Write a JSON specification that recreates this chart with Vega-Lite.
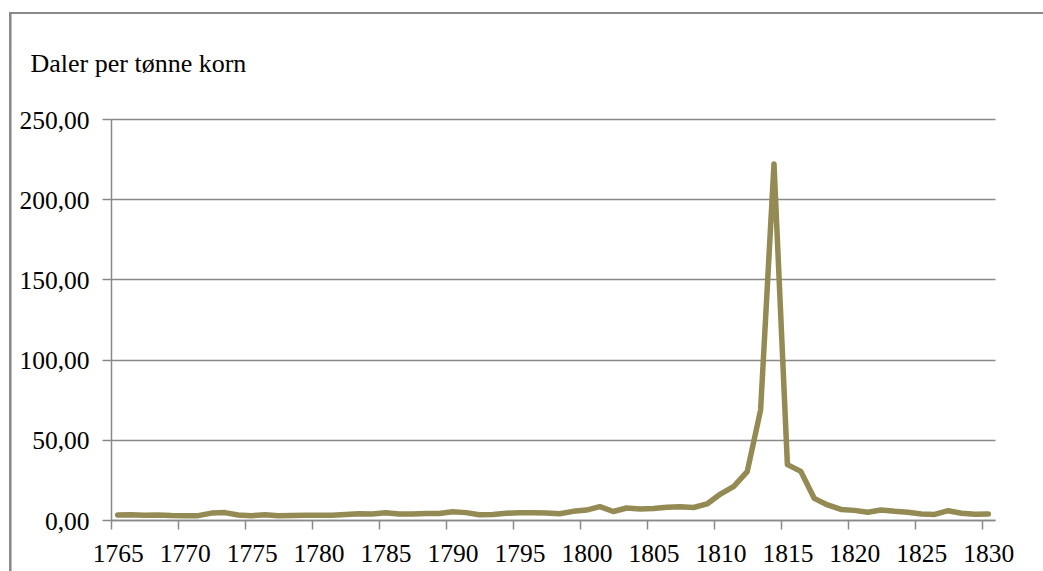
{
  "$schema": "https://vega.github.io/schema/vega-lite/v6.json",
  "width": 884,
  "height": 401,
  "autosize": {"type": "none"},
  "padding": {"left": 111, "top": 119, "right": 48, "bottom": 51},
  "background": "white",
  "config": {
    "view": {"stroke": null},
    "font": "Liberation Serif",
    "axis": {
      "labelFont": "Liberation Serif",
      "titleFont": "Liberation Serif",
      "labelColor": "black",
      "titleColor": "black",
      "labelFontSize": 25.5,
      "domainColor": "#898989",
      "domainWidth": 1.5,
      "tickColor": "#898989",
      "tickWidth": 1.5,
      "tickSize": 9,
      "gridColor": "#898989",
      "gridWidth": 1.5
    }
  },
  "data": {
    "values": [
      {"year": 1765, "price": 3.1}, {"year": 1766, "price": 3.2}, {"year": 1767, "price": 3.0},
      {"year": 1768, "price": 3.1}, {"year": 1769, "price": 2.8}, {"year": 1770, "price": 2.7},
      {"year": 1771, "price": 2.7}, {"year": 1772, "price": 4.3}, {"year": 1773, "price": 4.6},
      {"year": 1774, "price": 3.1}, {"year": 1775, "price": 2.7}, {"year": 1776, "price": 3.3},
      {"year": 1777, "price": 2.7}, {"year": 1778, "price": 2.8}, {"year": 1779, "price": 3.0},
      {"year": 1780, "price": 3.0}, {"year": 1781, "price": 3.0}, {"year": 1782, "price": 3.4},
      {"year": 1783, "price": 3.9}, {"year": 1784, "price": 3.7}, {"year": 1785, "price": 4.5},
      {"year": 1786, "price": 3.7}, {"year": 1787, "price": 3.7}, {"year": 1788, "price": 4.0},
      {"year": 1789, "price": 4.1}, {"year": 1790, "price": 5.2}, {"year": 1791, "price": 4.6},
      {"year": 1792, "price": 3.3}, {"year": 1793, "price": 3.5}, {"year": 1794, "price": 4.2},
      {"year": 1795, "price": 4.5}, {"year": 1796, "price": 4.5}, {"year": 1797, "price": 4.4},
      {"year": 1798, "price": 3.9}, {"year": 1799, "price": 5.4}, {"year": 1800, "price": 6.2},
      {"year": 1801, "price": 8.3}, {"year": 1802, "price": 5.3}, {"year": 1803, "price": 7.5},
      {"year": 1804, "price": 6.9}, {"year": 1805, "price": 7.1}, {"year": 1806, "price": 7.9},
      {"year": 1807, "price": 8.2}, {"year": 1808, "price": 7.8}, {"year": 1809, "price": 10.0},
      {"year": 1810, "price": 16.2}, {"year": 1811, "price": 21.0}, {"year": 1812, "price": 30.1},
      {"year": 1813, "price": 68.6}, {"year": 1814, "price": 222.0}, {"year": 1815, "price": 34.5},
      {"year": 1816, "price": 30.3}, {"year": 1817, "price": 13.5}, {"year": 1818, "price": 9.4},
      {"year": 1819, "price": 6.6}, {"year": 1820, "price": 6.0}, {"year": 1821, "price": 4.8},
      {"year": 1822, "price": 6.2}, {"year": 1823, "price": 5.4}, {"year": 1824, "price": 4.8},
      {"year": 1825, "price": 3.7}, {"year": 1826, "price": 3.5}, {"year": 1827, "price": 5.8},
      {"year": 1828, "price": 4.2}, {"year": 1829, "price": 3.6}, {"year": 1830, "price": 3.7}
    ]
  },
  "layer": [
    {
      "mark": {"type": "line", "color": "#948A54", "strokeWidth": 5.5, "strokeJoin": "round", "strokeCap": "round"},
      "encoding": {
        "x": {
          "field": "year",
          "type": "quantitative",
          "scale": {"domain": [1764.5, 1830.5], "nice": false, "zero": false},
          "axis": {
            "title": null,
            "grid": false,
            "values": [1764.5, 1769.5, 1774.5, 1779.5, 1784.5, 1789.5, 1794.5, 1799.5, 1804.5, 1809.5, 1814.5, 1819.5, 1824.5, 1829.5],
            "labelExpr": "format(datum.value + 0.5, 'd')",
            "labelOffset": 6.7,
            "labelFlush": false,
            "labelOverlap": false,
            "labelPadding": 12
          }
        },
        "y": {
          "field": "price",
          "type": "quantitative",
          "scale": {"domain": [0, 250], "nice": false},
          "axis": {
            "title": "Daler per tønne korn",
            "titleAngle": 0,
            "titleAlign": "left",
            "titleBaseline": "alphabetic",
            "titleX": -81,
            "titleY": -48,
            "titleFontSize": 26,
            "titleFontWeight": "normal",
            "values": [0, 50, 100, 150, 200, 250],
            "grid": true,
            "labelExpr": "replace(format(datum.value, '.2f'), '.', ',')",
            "labelBaseline": "alphabetic",
            "labelOffset": 9,
            "labelPadding": 13
          }
        }
      }
    },
    {
      "mark": {"type": "rect", "fill": null, "stroke": "#898989", "strokeWidth": 2, "clip": false},
      "encoding": {
        "x": {"datum": 1756.96, "type": "quantitative"},
        "x2": {"datum": 1845},
        "y": {"datum": 316.1, "type": "quantitative"},
        "y2": {"datum": -60}
      }
    }
  ]
}
